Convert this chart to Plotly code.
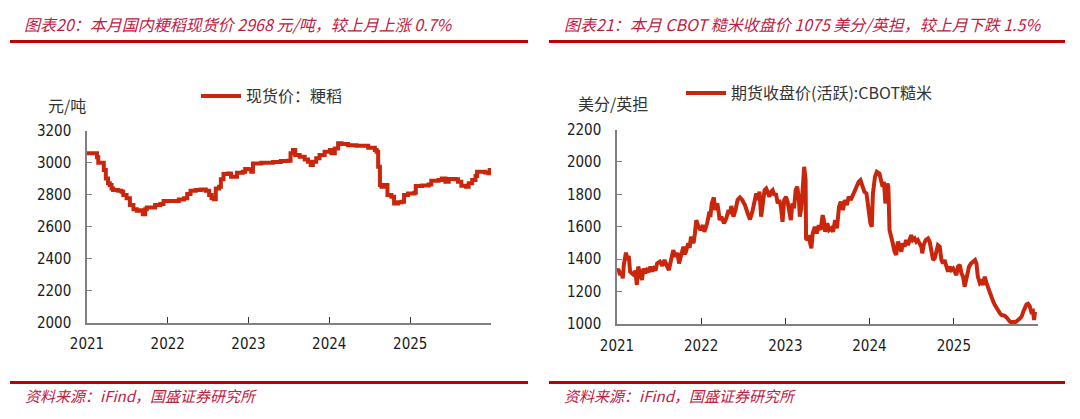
import plotly.graph_objects as go

W, H = 1080, 419

# ---------------- data ----------------
spot_name = "现货价：粳稻"
spot_dates = [
    "2021-01-01", "2021-02-09", "2021-02-15", "2021-02-21", "2021-03-12", "2021-03-18", "2021-03-27",
    "2021-04-06", "2021-04-14", "2021-04-22", "2021-04-29", "2021-05-22", "2021-06-06", "2021-06-14",
    "2021-06-29", "2021-07-14", "2021-07-30", "2021-08-14", "2021-08-29", "2021-09-10", "2021-09-21",
    "2021-09-28", "2021-10-21", "2021-11-05", "2021-11-28", "2021-12-13", "2022-02-05", "2022-02-20",
    "2022-03-15", "2022-03-30", "2022-04-14", "2022-05-07", "2022-05-30", "2022-06-22", "2022-07-07",
    "2022-07-18", "2022-07-30", "2022-08-06", "2022-08-21", "2022-08-29", "2022-09-10", "2022-09-29",
    "2022-10-14", "2022-11-01", "2022-11-10", "2022-12-06", "2022-12-17", "2022-12-29", "2023-01-13",
    "2023-01-21", "2023-02-28", "2023-04-22", "2023-05-27", "2023-06-28", "2023-07-10", "2023-07-21",
    "2023-07-31", "2023-08-20", "2023-09-12", "2023-09-27", "2023-10-09", "2023-10-19", "2023-11-03",
    "2023-11-18", "2023-12-11", "2024-01-04", "2024-01-11", "2024-01-26", "2024-02-10", "2024-02-25",
    "2024-03-26", "2024-05-03", "2024-06-07", "2024-06-25", "2024-07-25", "2024-08-02", "2024-08-09",
    "2024-08-17", "2024-08-24", "2024-09-08", "2024-09-20", "2024-10-08", "2024-10-20", "2024-11-07",
    "2024-11-22", "2024-12-04", "2024-12-22", "2025-01-20", "2025-01-26", "2025-02-23", "2025-03-25",
    "2025-04-06", "2025-05-09", "2025-05-24", "2025-06-09", "2025-06-24", "2025-07-24", "2025-08-05",
    "2025-08-20", "2025-09-10", "2025-09-22", "2025-10-08", "2025-10-23", "2025-10-30", "2025-11-15",
    "2025-12-05", "2025-12-20", "2025-12-26",
]
spot_values = [
    3060, 3060, 3035, 3001, 3001, 2955, 2903,
    2872, 2861, 2840, 2830, 2826, 2820, 2799,
    2778, 2736, 2709, 2700, 2704, 2679, 2709,
    2721, 2721, 2736, 2742, 2761, 2761, 2771,
    2778, 2805, 2826, 2830, 2834, 2826, 2799,
    2778, 2773, 2840, 2851, 2897, 2930, 2934,
    2914, 2914, 2939, 2945, 2962, 2960, 2945,
    2997, 3001, 3006, 3012, 3014, 3060, 3081,
    3049, 3039, 3022, 3008, 2987, 3008, 3029,
    3049, 3070, 3081, 3060, 3091, 3123, 3118,
    3110, 3108, 3108, 3095, 3081, 3070, 2976,
    2861, 2851, 2861, 2799, 2788, 2746, 2753,
    2757, 2799, 2809, 2813, 2855, 2859, 2865,
    2888, 2893, 2903, 2882, 2899, 2897, 2882,
    2857, 2851, 2872, 2893, 2918, 2945, 2945,
    2940, 2935, 2968,
]

cbot_name = "期货收盘价(活跃):CBOT糙米"
cbot_dates = [
    "2021-01-01", "2021-01-07", "2021-01-14", "2021-01-21", "2021-01-26", "2021-01-31", "2021-02-09",
    "2021-02-15", "2021-02-21", "2021-02-27", "2021-03-06", "2021-03-16", "2021-03-22", "2021-03-28",
    "2021-04-03", "2021-04-12", "2021-04-19", "2021-04-26", "2021-05-04", "2021-05-11", "2021-05-18",
    "2021-05-26", "2021-06-02", "2021-06-09", "2021-06-17", "2021-06-24", "2021-07-06", "2021-07-16",
    "2021-07-26", "2021-08-07", "2021-08-14", "2021-08-25", "2021-09-02", "2021-09-13", "2021-09-20",
    "2021-09-27", "2021-10-08", "2021-10-16", "2021-10-22", "2021-10-27", "2021-11-06", "2021-11-12",
    "2021-11-18", "2021-11-24", "2021-11-29", "2021-12-05", "2021-12-11", "2021-12-20", "2021-12-29",
    "2022-01-08", "2022-01-15", "2022-01-22", "2022-01-27", "2022-02-06", "2022-02-10", "2022-02-16",
    "2022-02-25", "2022-03-03", "2022-03-12", "2022-03-18", "2022-03-22", "2022-03-30", "2022-04-10",
    "2022-04-20", "2022-04-30", "2022-05-06", "2022-05-12", "2022-05-21", "2022-05-30", "2022-06-08",
    "2022-06-18", "2022-06-28", "2022-07-10", "2022-07-22", "2022-08-01", "2022-08-11", "2022-08-21",
    "2022-08-28", "2022-09-04", "2022-09-11", "2022-09-18", "2022-09-26", "2022-10-03", "2022-10-10",
    "2022-10-17", "2022-10-24", "2022-10-31", "2022-11-07", "2022-11-14", "2022-11-21", "2022-11-29",
    "2022-12-06", "2022-12-13", "2022-12-20", "2022-12-27", "2023-01-04", "2023-01-11", "2023-01-18",
    "2023-01-25", "2023-02-01", "2023-02-08", "2023-02-15", "2023-02-22", "2023-03-01", "2023-03-05",
    "2023-03-12", "2023-03-18", "2023-03-24", "2023-03-30", "2023-04-01", "2023-04-07", "2023-04-13",
    "2023-04-19", "2023-04-24", "2023-04-30", "2023-05-09", "2023-05-17", "2023-05-26", "2023-06-03",
    "2023-06-12", "2023-06-17", "2023-06-23", "2023-07-02", "2023-07-10", "2023-07-19", "2023-07-27",
    "2023-08-05", "2023-08-13", "2023-08-22", "2023-08-30", "2023-09-08", "2023-09-16", "2023-09-25",
    "2023-10-03", "2023-10-12", "2023-10-20", "2023-10-29", "2023-11-06", "2023-11-15", "2023-11-23",
    "2023-12-02", "2023-12-10", "2023-12-19", "2023-12-25", "2023-12-30", "2024-01-05", "2024-01-11",
    "2024-01-16", "2024-01-25", "2024-02-02", "2024-02-13", "2024-02-20", "2024-02-27", "2024-03-04",
    "2024-03-10", "2024-03-13", "2024-03-19", "2024-03-23", "2024-03-28", "2024-04-04", "2024-04-11",
    "2024-04-19", "2024-04-26", "2024-05-03", "2024-05-10", "2024-05-18", "2024-05-25", "2024-06-01",
    "2024-06-08", "2024-06-16", "2024-06-23", "2024-06-30", "2024-07-07", "2024-07-15", "2024-07-22",
    "2024-07-29", "2024-08-05", "2024-08-13", "2024-08-17", "2024-08-23", "2024-09-01", "2024-09-11",
    "2024-09-18", "2024-09-25", "2024-10-03", "2024-10-10", "2024-10-17", "2024-10-24", "2024-11-01",
    "2024-11-08", "2024-11-15", "2024-11-22", "2024-11-30", "2024-12-07", "2024-12-14", "2024-12-21",
    "2024-12-29", "2025-01-05", "2025-01-12", "2025-01-19", "2025-01-27", "2025-02-03", "2025-02-10",
    "2025-02-17", "2025-02-22", "2025-02-28", "2025-03-08", "2025-03-17", "2025-03-26", "2025-04-03",
    "2025-04-09", "2025-04-15", "2025-04-24", "2025-05-01", "2025-05-08", "2025-05-15", "2025-05-23",
    "2025-05-30", "2025-06-06", "2025-06-13", "2025-06-21", "2025-06-28", "2025-07-05", "2025-07-12",
    "2025-07-20", "2025-07-27", "2025-08-03", "2025-08-10", "2025-08-17", "2025-08-25", "2025-09-01",
    "2025-09-08", "2025-09-16", "2025-09-23", "2025-09-30", "2025-10-07", "2025-10-15", "2025-10-22",
    "2025-10-29", "2025-11-05", "2025-11-12", "2025-11-19", "2025-11-26", "2025-12-03", "2025-12-10",
    "2025-12-15", "2025-12-19",
]
cbot_values = [
    1323, 1340, 1302, 1320, 1282, 1370, 1440,
    1395, 1420, 1323, 1313, 1302, 1330, 1241,
    1354, 1292, 1272, 1343, 1315, 1333, 1320,
    1354, 1325, 1343, 1330, 1374, 1385, 1360,
    1395, 1354, 1333, 1405, 1456, 1415, 1440,
    1374, 1446, 1477, 1430, 1446, 1498, 1470,
    1539, 1510, 1498, 1560, 1641, 1600, 1580,
    1610, 1569, 1600, 1621, 1693, 1660, 1744,
    1781, 1703, 1744, 1690, 1641, 1662, 1621,
    1652, 1703, 1680, 1728, 1662, 1703, 1765,
    1781, 1765, 1734, 1682, 1645, 1693, 1775,
    1806, 1765, 1816, 1662, 1744, 1826, 1836,
    1816, 1785, 1816, 1826, 1795, 1806, 1744,
    1765, 1723, 1631, 1765, 1785, 1754, 1682,
    1641, 1744, 1713, 1826, 1847, 1765, 1662,
    1723, 1847, 1970, 1888, 1528, 1518, 1549,
    1498, 1467, 1559, 1600, 1559, 1610, 1580,
    1672, 1641, 1569, 1621, 1580, 1590, 1569,
    1641, 1590, 1723, 1754, 1703, 1765, 1734,
    1785, 1765, 1795, 1816, 1847, 1877, 1888,
    1857, 1816, 1806, 1744, 1662, 1621, 1600,
    1806, 1908, 1939, 1929, 1898, 1847, 1877,
    1744, 1765, 1867, 1847, 1580, 1549, 1498,
    1446, 1426, 1508, 1487, 1446, 1498, 1477,
    1518, 1487, 1528, 1549, 1518, 1528, 1508,
    1518, 1498, 1477, 1436, 1487, 1518, 1528,
    1508, 1467, 1395, 1405, 1456, 1487, 1477,
    1395, 1374, 1395, 1354, 1323, 1354, 1333,
    1343, 1313, 1302, 1354, 1364, 1313, 1292,
    1231, 1272, 1313, 1354, 1374, 1385, 1395,
    1374, 1292, 1251, 1261, 1241, 1292, 1251,
    1220, 1190, 1169, 1138, 1117, 1097, 1076,
    1066, 1056, 1056, 1050, 1041, 1025, 1015,
    1009, 1013, 1009, 1015, 1025, 1035, 1046,
    1076, 1100, 1120, 1125, 1110, 1075, 1080,
    1025, 1075,
]

year_ticks = ["2021-01-01", "2022-01-01", "2023-01-01", "2024-01-01", "2025-01-01"]
year_labels = ["2021", "2022", "2023", "2024", "2025"]

left_title = "图表20：本月国内粳稻现货价 2968 元/吨，较上月上涨 0.7%"
right_title = "图表21：本月 CBOT 糙米收盘价 1075 美分/英担，较上月下跌 1.5%"
left_unit = "元/吨"
right_unit = "美分/英担"
source_text = "资料来源：iFind，国盛证券研究所"

# ---------------- style ----------------
LINE_COLOR = "#C9260B"
TITLE_COLOR = "#C0203F"
RULE_COLOR = "#C00000"
AXIS_COLOR = "#808080"
CJK = "Noto Sans CJK SC, Noto Sans, sans-serif"
NUM = "DejaVu Sans Condensed, Liberation Sans, sans-serif"


def px(x):
    return x / W


def py(y):
    return 1 - y / H


fig = go.Figure()
fig.add_trace(go.Scatter(
    x=spot_dates, y=spot_values, name=spot_name, mode="lines",
    line=dict(color=LINE_COLOR, width=4, shape="hv"),
    xaxis="x", yaxis="y", legend="legend", hoverinfo="skip",
))
fig.add_trace(go.Scatter(
    x=cbot_dates, y=cbot_values, name=cbot_name, mode="lines",
    line=dict(color=LINE_COLOR, width=4),
    xaxis="x2", yaxis="y2", legend="legend2", hoverinfo="skip",
))

common_x = dict(
    type="date", range=["2021-01-01", "2026-01-01"], tickvals=year_ticks, ticktext=year_labels,
    ticks="inside", ticklen=6, tickwidth=1, tickcolor="#333333",
    showline=True, linecolor=AXIS_COLOR, linewidth=1.5, showgrid=False, zeroline=False,
    tickfont=dict(family=NUM, size=15, color="#1a1a1a"), ticklabelstandoff=7,
    automargin=False,
)
common_y = dict(
    ticks="inside", ticklen=5, tickwidth=1, tickcolor=AXIS_COLOR,
    showline=True, linecolor=AXIS_COLOR, linewidth=1.5, showgrid=False, zeroline=False,
    tickfont=dict(family=NUM, size=15, color="#1a1a1a"), ticklabelstandoff=11,
    automargin=False,
)

fig.update_layout(
    width=W, height=H, margin=dict(l=0, r=0, t=0, b=0, autoexpand=False),
    paper_bgcolor="white", plot_bgcolor="white",
    xaxis=dict(domain=[px(87), px(491)], anchor="y", **common_x),
    yaxis=dict(domain=[py(322.5), py(131)], anchor="x", range=[2000, 3200], dtick=200, **common_y),
    xaxis2=dict(domain=[px(617), px(1038)], anchor="y2", **common_x),
    yaxis2=dict(domain=[py(324), py(129.5)], anchor="x2", range=[1000, 2200], dtick=200, **common_y),
    legend=dict(x=px(196), y=py(96), xanchor="left", yanchor="middle", orientation="h",
                font=dict(family=CJK, size=16, color="#333333"), itemwidth=40,
                bgcolor="rgba(0,0,0,0)"),
    legend2=dict(x=px(681), y=py(93), xanchor="left", yanchor="middle", orientation="h",
                 font=dict(family=CJK, size=16, color="#333333"), itemwidth=40,
                 bgcolor="rgba(0,0,0,0)"),
    showlegend=True,
)

annotations = [
    dict(text=left_title, x=px(22), y=py(24), xanchor="left", yanchor="middle",
         font=dict(family=CJK, size=16, color=TITLE_COLOR, style="italic")),
    dict(text=right_title, x=px(562), y=py(24), xanchor="left", yanchor="middle",
         font=dict(family=CJK, size=16, color=TITLE_COLOR, style="italic")),
    dict(text=left_unit, x=px(46), y=py(105), xanchor="left", yanchor="middle",
         font=dict(family=CJK, size=16, color="#333333")),
    dict(text=right_unit, x=px(576), y=py(103), xanchor="left", yanchor="middle",
         font=dict(family=CJK, size=16, color="#333333")),
    dict(text=source_text, x=px(23), y=py(395), xanchor="left", yanchor="middle",
         font=dict(family=CJK, size=15, color=TITLE_COLOR, style="italic")),
    dict(text=source_text, x=px(562), y=py(395), xanchor="left", yanchor="middle",
         font=dict(family=CJK, size=15, color=TITLE_COLOR, style="italic")),
]
for a in annotations:
    a.update(xref="paper", yref="paper", showarrow=False)
fig.update_layout(annotations=annotations)

shapes = []
for (x0, x1) in [(10, 528), (549, 1065)]:
    for yy in (41.5, 382.5):
        shapes.append(dict(type="line", xref="paper", yref="paper",
                           x0=px(x0), x1=px(x1), y0=py(yy), y1=py(yy),
                           line=dict(color=RULE_COLOR, width=3)))
fig.update_layout(shapes=shapes)

fig.write_html("out.html", config={"displayModeBar": False},
               post_script="document.body.style.margin='0';")
